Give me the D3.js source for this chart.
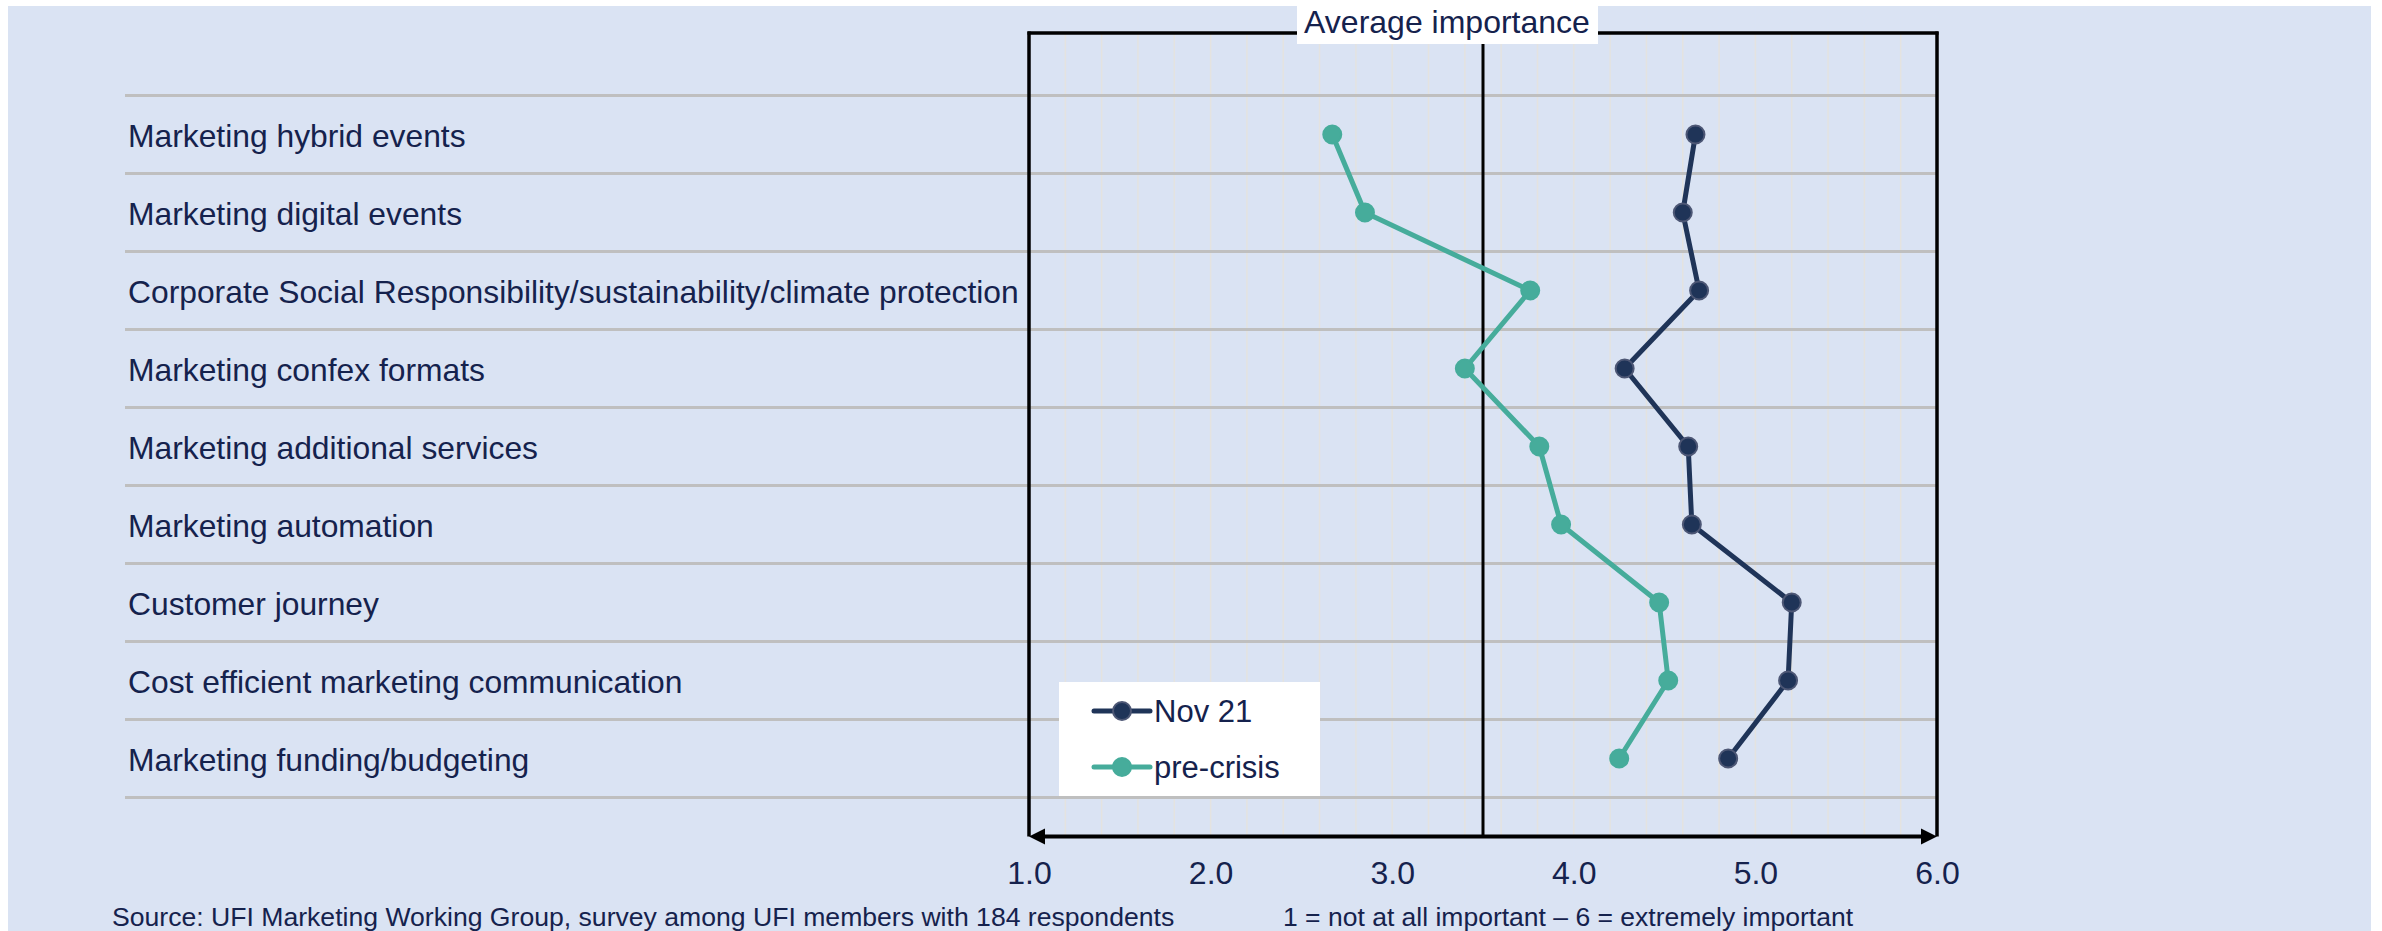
<!DOCTYPE html>
<html>
<head>
<meta charset="utf-8">
<script src="https://cdn.jsdelivr.net/npm/d3@7"></script>
<style>
  html, body { margin: 0; padding: 0; background: #ffffff; }
  svg { display: block; font-family: "Liberation Sans", Arial, sans-serif; }
</style>
</head>
<body>
<svg id="chart" width="2382" height="931"></svg>
<script>
// Items rated, top to bottom
const categories = [
  "Marketing hybrid events",
  "Marketing digital events",
  "Corporate Social Responsibility/sustainability/climate protection",
  "Marketing confex formats",
  "Marketing additional services",
  "Marketing automation",
  "Customer journey",
  "Cost efficient marketing communication",
  "Marketing funding/budgeting"
];

// Average importance per item (scale 1–6)
const nov21     = [4.67, 4.60, 4.69, 4.28, 4.63, 4.65, 5.20, 5.18, 4.85];
const preCrisis = [2.67, 2.85, 3.76, 3.40, 3.81, 3.93, 4.47, 4.52, 4.25];

const seriesNames = ["Nov 21", "pre-crisis"];
const tickValues = [1, 2, 3, 4, 5, 6];
const midpoint = 3.5;

const titleText = "Average importance";
const sourceText = "Source: UFI Marketing Working Group, survey among UFI members with 184 respondents";
const scaleNote = "1 = not at all important \u2013 6 = extremely important";

const navy = "#1f3458";
const navyRing = "#4d5775";
const teal = "#46ac9b";
const textColor = "#15224d";
const bg = "#dae3f3";

const svg = d3.select("#chart");

// panel background
svg.append("rect")
  .attr("x", 8).attr("y", 6)
  .attr("width", 2363).attr("height", 925)
  .attr("fill", bg);

const plotLeft = 1029, plotRight = 1937, plotTop = 33, axisY = 836.5;

const x = d3.scaleLinear().domain([1, 6]).range([plotLeft, plotRight]);
const y = d3.scaleBand().domain(categories).range([95.5, 797.5]).padding(0);
const cy = d => y(d) + y.bandwidth() / 2;

// light vertical grid every 0.2
svg.append("g").selectAll("line")
  .data(d3.range(10, 61, 2).map(v => v / 10))
  .join("line")
  .attr("x1", d => x(d)).attr("x2", d => x(d))
  .attr("y1", plotTop).attr("y2", axisY)
  .attr("stroke", "#e4e3e0").attr("stroke-width", 1.5);

// horizontal separators between items
const seps = categories.map(c => y(c)).concat([y.range()[1]]);
svg.append("g").selectAll("line")
  .data(seps)
  .join("line")
  .attr("x1", 125).attr("x2", plotRight)
  .attr("y1", d => d).attr("y2", d => d)
  .attr("stroke", "#bfbfbf").attr("stroke-width", 3);

// category labels
svg.append("g").selectAll("text")
  .data(categories)
  .join("text")
  .attr("x", 128)
  .attr("y", d => cy(d))
  .attr("dy", "0.38em")
  .attr("font-size", 31.8)
  .attr("fill", textColor)
  .text(d => d);

// frame: left, right, top
svg.append("line")
  .attr("x1", plotLeft).attr("x2", plotLeft)
  .attr("y1", plotTop - 1.5).attr("y2", axisY)
  .attr("stroke", "#000").attr("stroke-width", 3.5);
svg.append("line")
  .attr("x1", plotRight).attr("x2", plotRight)
  .attr("y1", plotTop - 1.5).attr("y2", axisY)
  .attr("stroke", "#000").attr("stroke-width", 3.5);
svg.append("line")
  .attr("x1", plotLeft - 1.5).attr("x2", plotRight + 1.5)
  .attr("y1", plotTop).attr("y2", plotTop)
  .attr("stroke", "#000").attr("stroke-width", 3.5);

// midpoint reference line
svg.append("line")
  .attr("x1", x(midpoint)).attr("x2", x(midpoint))
  .attr("y1", plotTop).attr("y2", axisY)
  .attr("stroke", "#000").attr("stroke-width", 3);

// double-headed axis arrow
svg.append("line")
  .attr("x1", plotLeft + 8).attr("x2", plotRight - 8)
  .attr("y1", axisY).attr("y2", axisY)
  .attr("stroke", "#000").attr("stroke-width", 4);
svg.append("path")
  .attr("d", `M${plotRight},${axisY} L${plotRight - 16},${axisY - 8} L${plotRight - 16},${axisY + 8} Z`)
  .attr("fill", "#000");
svg.append("path")
  .attr("d", `M${plotLeft},${axisY} L${plotLeft + 16},${axisY - 8} L${plotLeft + 16},${axisY + 8} Z`)
  .attr("fill", "#000");

// tick labels
const xAxis = d3.axisBottom(x)
  .tickValues(tickValues)
  .tickFormat(d3.format(".1f"))
  .tickSize(0)
  .tickPadding(25);
const gx = svg.append("g")
  .attr("transform", `translate(0,${axisY})`)
  .call(xAxis);
gx.select(".domain").remove();
gx.selectAll("text")
  .attr("font-size", 32)
  .attr("font-family", "Liberation Sans, Arial, sans-serif")
  .attr("fill", textColor);

// title box on the top frame
svg.append("rect")
  .attr("x", 1297).attr("y", 6)
  .attr("width", 301).attr("height", 38)
  .attr("fill", "#ffffff");
svg.append("text")
  .attr("x", 1447).attr("y", 33)
  .attr("text-anchor", "middle")
  .attr("font-size", 32)
  .attr("fill", textColor)
  .text(titleText);

// series lines and markers
const line = d3.line()
  .x(d => x(d.v))
  .y(d => cy(d.c));

const series = [
  { name: seriesNames[1], values: preCrisis, color: teal, ring: teal },
  { name: seriesNames[0], values: nov21, color: navy, ring: navyRing }
];

series.forEach(s => {
  const pts = categories.map((c, i) => ({ c, v: s.values[i] }));
  svg.append("path")
    .datum(pts)
    .attr("d", line)
    .attr("fill", "none")
    .attr("stroke", s.color)
    .attr("stroke-width", 5)
    .attr("stroke-linejoin", "round");
  svg.append("g").selectAll("circle")
    .data(pts)
    .join("circle")
    .attr("cx", d => x(d.v))
    .attr("cy", d => cy(d.c))
    .attr("r", 9)
    .attr("fill", s.color)
    .attr("stroke", s.ring)
    .attr("stroke-width", 2);
});

// legend
const legend = svg.append("g");
legend.append("rect")
  .attr("x", 1059).attr("y", 682)
  .attr("width", 261).attr("height", 114)
  .attr("fill", "#ffffff");
const legendItems = [
  { name: seriesNames[0], color: navy, ring: navyRing, y: 711 },
  { name: seriesNames[1], color: teal, ring: teal, y: 767 }
];
legendItems.forEach(it => {
  legend.append("line")
    .attr("x1", 1094).attr("x2", 1150)
    .attr("y1", it.y).attr("y2", it.y)
    .attr("stroke", it.color).attr("stroke-width", 5)
    .attr("stroke-linecap", "round");
  legend.append("circle")
    .attr("cx", 1122).attr("cy", it.y).attr("r", 9)
    .attr("fill", it.color).attr("stroke", it.ring).attr("stroke-width", 2);
  legend.append("text")
    .attr("x", 1154).attr("y", it.y)
    .attr("dy", "0.36em")
    .attr("font-size", 31)
    .attr("fill", textColor)
    .text(it.name);
});

// footnotes
svg.append("text")
  .attr("x", 112).attr("y", 926)
  .attr("font-size", 26.6)
  .attr("fill", textColor)
  .text(sourceText);
svg.append("text")
  .attr("x", 1283).attr("y", 926)
  .attr("font-size", 26.5)
  .attr("fill", textColor)
  .text(scaleNote);
</script>
</body>
</html>
